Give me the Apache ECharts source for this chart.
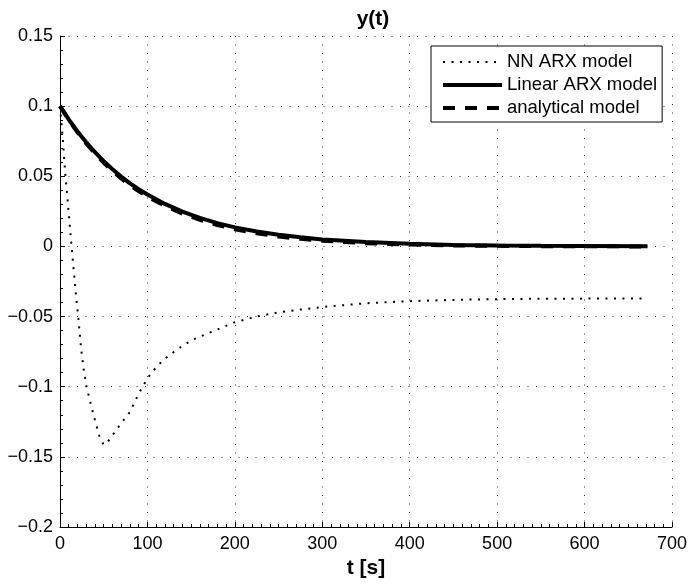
<!DOCTYPE html>
<html>
<head>
<meta charset="utf-8">
<script src="https://cdn.jsdelivr.net/npm/echarts@6/dist/echarts.min.js"></script>
<style>html,body{margin:0;padding:0;background:#fff;}#c{width:690px;height:584px;}</style>
</head>
<body>
<div id="c"></div>
<script>
const xTickLabels = ['0','100','200','300','400','500','600','700'];
const yTickLabels = ['\u22120.2','\u22120.15','\u22120.1','\u22120.05','0','0.05','0.1','0.15'];
const seriesNames = ['NN ARX model','Linear ARX model','analytical model'];

const nnT = [0,3,6,9,12,15,18,21,24,27,30,35,40,45,50,55,60,70,80,90,100,110,120,135,150,175,200,225,250,275,300,350,400,450,500,550,600,672];
const nnY = [0.1,0.078,0.052,0.031,0.009,-0.012,-0.033,-0.051,-0.072,-0.087,-0.099,-0.112,-0.124,-0.135,-0.1415,-0.139,-0.1345,-0.126,-0.118,-0.105,-0.094,-0.086,-0.080,-0.073,-0.067,-0.0605,-0.054,-0.050,-0.047,-0.045,-0.0432,-0.0405,-0.039,-0.0381,-0.0376,-0.0373,-0.0372,-0.0371];

const linT = [0,10,20,30,40,50,60,70,80,90,100,120,140,160,180,200,225,250,275,300,350,400,450,500,550,600,672];
const linY = [0.1,0.0905,0.082,0.0742,0.0672,0.0608,0.055,0.0498,0.045,0.0408,0.037,0.0303,0.0248,0.0203,0.0166,0.0136,0.0106,0.0083,0.0065,0.005,0.0031,0.0019,0.0011,0.0007,0.0004,0.0003,0.0001];
const anaY = [0.1,0.0902,0.0814,0.0734,0.0662,0.0597,0.0538,0.0485,0.0437,0.0394,0.0355,0.0289,0.0234,0.019,0.0153,0.0123,0.0094,0.0071,0.0054,0.0041,0.0023,0.0013,0.0007,0.0004,0.0002,0.0001,0.0];

const FONT = 'Liberation Sans, Arial, Helvetica, sans-serif';
const pair = (ts, ys) => ts.map((t, i) => [t, ys[i]]);

const chart = echarts.init(document.getElementById('c'), null, {renderer: 'canvas'});
const gridLine = {show: true, lineStyle: {color: '#333', width: 1, type: [1, 7.5]}};

chart.setOption({
  animation: false,
  backgroundColor: '#fff',
  title: {
    text: 'y(t)', left: 368, top: 4, textAlign: 'center',
    textStyle: {fontFamily: FONT, fontSize: 21, fontWeight: 'bold', color: '#000'}
  },
  grid: {left: 60, right: 13, top: 36, bottom: 56, containLabel: false},
  legend: {
    orient: 'vertical', left: 431, top: 46,
    padding: [6, 5, 4, 10],
    itemWidth: 59, itemHeight: 14, itemGap: 3,
    borderColor: '#000', borderWidth: 1, backgroundColor: '#fff',
    data: seriesNames,
    itemStyle: {color: 'rgba(0,0,0,0)', borderWidth: 0, opacity: 0},
    lineStyle: {width: 'inherit', type: 'inherit', color: 'inherit'},
    textStyle: {fontFamily: FONT, fontSize: 18.5, color: '#000', lineHeight: 20}
  },
  xAxis: {
    type: 'value', min: 0, max: 700, interval: 100,
    name: 't [s]', nameLocation: 'middle', nameGap: 31,
    nameTextStyle: {fontFamily: FONT, fontSize: 21, fontWeight: 'bold', color: '#000'},
    axisLine: {show: true, onZero: false, lineStyle: {color: '#000', width: 1}},
    axisTick: {show: true, inside: true, length: 5, lineStyle: {color: '#000'}},
    minorTick: {show: true, splitNumber: 10, length: 3, lineStyle: {color: '#000'}},
    axisLabel: {fontFamily: FONT, fontSize: 18, color: '#000', margin: 8,
      formatter: v => xTickLabels[Math.round(v / 100)]},
    splitLine: gridLine
  },
  yAxis: {
    type: 'value', min: -0.2, max: 0.15, interval: 0.05,
    axisLine: {show: true, onZero: false, lineStyle: {color: '#000', width: 1}},
    axisTick: {show: true, inside: true, length: 5, lineStyle: {color: '#000'}},
    minorTick: {show: true, splitNumber: 5, length: 3, lineStyle: {color: '#000'}},
    axisLabel: {fontFamily: FONT, fontSize: 18, color: '#000', margin: 7,
      formatter: v => yTickLabels[Math.round((v + 0.2) / 0.05)]},
    splitLine: gridLine
  },
  series: [
    {name: seriesNames[0], type: 'line', data: pair(nnT, nnY), showSymbol: false, symbol: 'none',
      lineStyle: {color: '#000', width: 2, type: [2, 6.5]}, itemStyle: {color: '#000'}},
    {name: seriesNames[1], type: 'line', data: pair(linT, linY), showSymbol: false, symbol: 'none',
      lineStyle: {color: '#000', width: 4, type: 'solid'}, itemStyle: {color: '#000'}},
    {name: seriesNames[2], type: 'line', data: pair(linT, anaY), showSymbol: false, symbol: 'none',
      lineStyle: {color: '#000', width: 4, type: [12, 10]}, itemStyle: {color: '#000'}}
  ]
});
</script>
</body>
</html>
